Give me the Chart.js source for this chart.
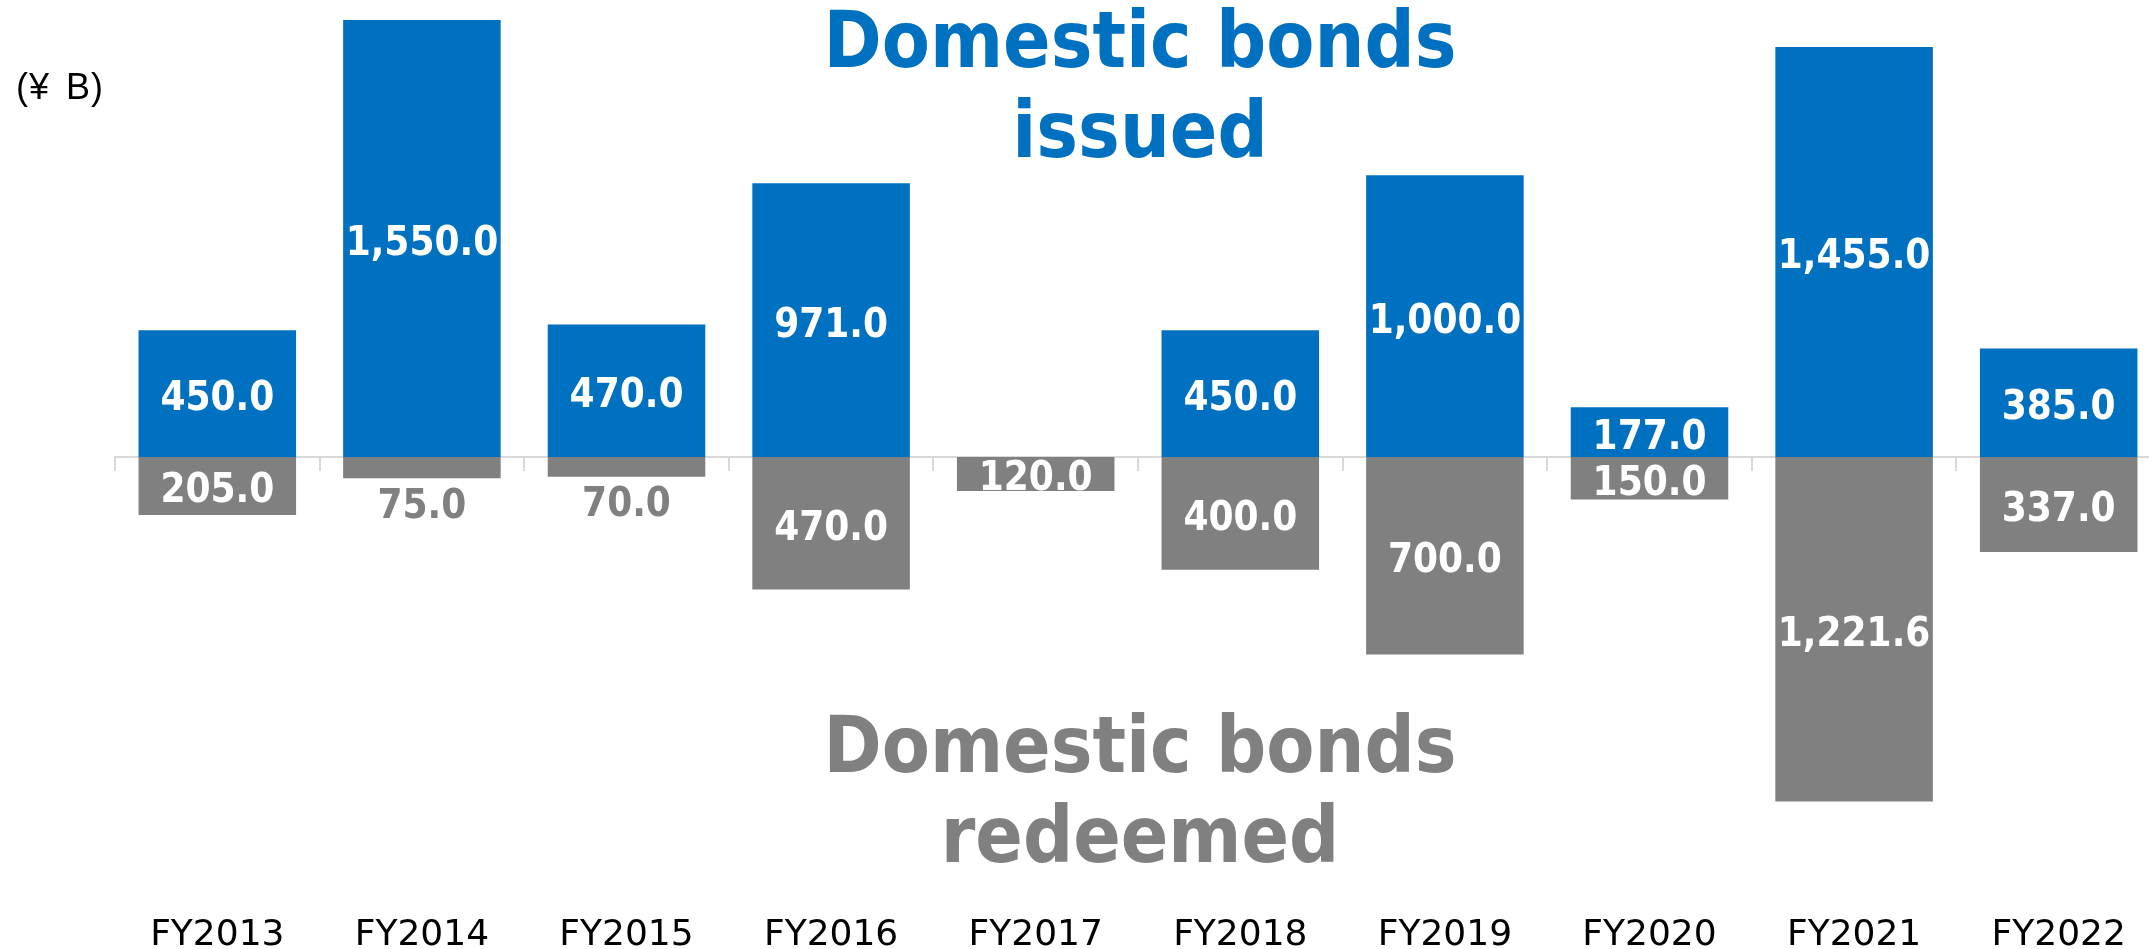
<!DOCTYPE html>
<html>
<head>
<meta charset="utf-8">
<script src="https://cdn.jsdelivr.net/npm/chart.js@4.4.0/dist/chart.umd.min.js"></script>
<style>
html, body { margin: 0; padding: 0; background: #fff; overflow: hidden; width: 2149px; height: 949px; }
#wrap { position: relative; width: 2170px; height: 949px; }
#wrap canvas { position: absolute; left: 0; top: 0; }
.title {
    position: absolute; left: 740px; width: 800px; text-align: center;
    font-family: 'DejaVu Sans Condensed', 'DejaVu Sans', sans-serif;
    font-weight: bold; font-size: 78px; line-height: 90px; white-space: nowrap;
}
#unit {
    position: absolute; left: 16px; top: 67px;
    font-family: 'Liberation Sans', Arial, sans-serif; font-size: 36px; line-height: 40px;
    letter-spacing: 1px; word-spacing: 5px; color: #000;
}
</style>
</head>
<body>
<div id="wrap">
    <canvas id="bondChart" width="2170" height="949"></canvas>
    <div class="title" style="top:-5px;color:#0070C0;">Domestic bonds<br>issued</div>
    <div class="title" style="top:700px;color:#808080;">Domestic bonds<br>redeemed</div>
    <div id="unit">(¥ B)</div>
</div>
<script>
const categories = ['FY2013', 'FY2014', 'FY2015', 'FY2016', 'FY2017', 'FY2018', 'FY2019', 'FY2020', 'FY2021', 'FY2022'];
const issued = [450.0, 1550.0, 470.0, 971.0, null, 450.0, 1000.0, 177.0, 1455.0, 385.0];
const redeemed = [205.0, 75.0, 70.0, 470.0, 120.0, 400.0, 700.0, 150.0, 1221.6, 337.0];

const blue = '#0070C0';
const gray = '#808080';

function fmt(v){
    return v.toLocaleString('en-US', { minimumFractionDigits: 1, maximumFractionDigits: 1 });
}

// value labels: inside the bar in white, or just past its end when the bar is too short
const barLabels = {
    id: 'barLabels',
    afterDraw(chart){
        const ctx = chart.ctx;
        ctx.save();
        ctx.font = 'bold 40px "DejaVu Sans Condensed", "DejaVu Sans"';
        ctx.textAlign = 'center';
        ctx.textBaseline = 'middle';
        chart.data.datasets.forEach((ds, di) => {
            chart.getDatasetMeta(di).data.forEach((bar, i) => {
                const v = ds.data[i];
                if(v == null) return;
                const txt = fmt(Math.abs(v));
                const h = Math.abs(bar.base - bar.y);
                if(h >= 30){
                    ctx.fillStyle = '#fff';
                    ctx.fillText(txt, bar.x, (bar.y + bar.base) / 2 + 6);
                } else {
                    ctx.fillStyle = ds.backgroundColor;
                    ctx.fillText(txt, bar.x, v < 0 ? bar.y + 29 : bar.y - 23);
                }
            });
        });
        ctx.restore();
    }
};

let ctx = document.getElementById('bondChart').getContext('2d');
let bondChart = new Chart(ctx, {
    type: 'bar',
    data: {
        labels: categories,
        datasets: [{
            label: 'Domestic bonds issued',
            data: issued,
            backgroundColor: blue,
            xAxisID: 'x',
            categoryPercentage: 0.77,
            barPercentage: 1.0
        }, {
            label: 'Domestic bonds redeemed',
            data: redeemed.map(v => -v),
            backgroundColor: gray,
            xAxisID: 'x',
            categoryPercentage: 0.77,
            barPercentage: 1.0
        }]
    },
    options: {
        responsive: false,
        animation: false,
        devicePixelRatio: 1,
        layout: { padding: { left: 115, right: 9, top: 6, bottom: 0 } },
        plugins: {
            legend: { display: false },
            title: { display: false },
            tooltip: { enabled: false }
        },
        scales: {
            x: {
                stacked: true,
                position: 'bottom',
                grid: { display: false },
                border: { display: false },
                ticks: {
                    color: '#000',
                    padding: 26,
                    maxRotation: 0,
                    font: { family: 'DejaVu Sans', size: 36 }
                },
                afterFit: scale => { scale.height = 69; }
            },
            xZero: {
                type: 'category',
                position: { y: 0 },
                offset: true,
                z: 1,
                grid: {
                    display: true,
                    offset: true,
                    drawOnChartArea: false,
                    drawTicks: true,
                    tickLength: 13,
                    color: '#d9d9d9',
                    lineWidth: 2
                },
                border: { display: true, color: '#d9d9d9', width: 2 },
                ticks: { display: false }
            },
            y: {
                stacked: true,
                display: false,
                min: -1500,
                max: 1600
            }
        }
    },
    plugins: [barLabels]
});
</script>
</body>
</html>
